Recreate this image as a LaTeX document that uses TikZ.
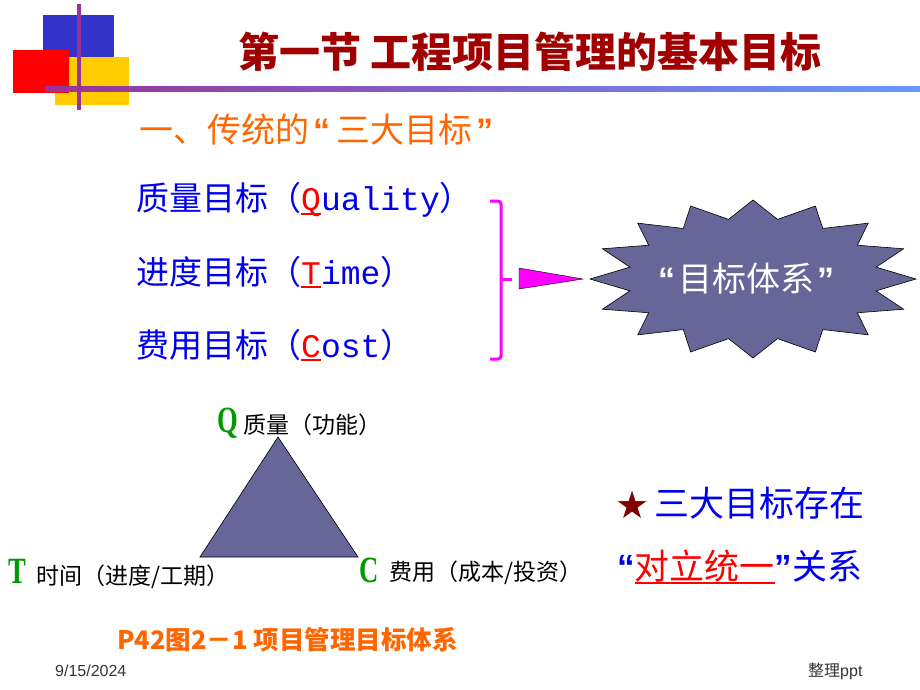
\documentclass[tikz,border=0pt]{standalone}
\usepackage{fontspec}
\usepackage{graphicx}
\newfontfamily\cjk{Noto Sans CJK SC}
\newfontfamily\mono{Liberation Mono}
\newfontfamily\serifl{Liberation Serif}
\newfontfamily\sansl{Liberation Sans}
\newfontfamily\djv{DejaVu Sans}
\definecolor{titlered}{RGB}{160,0,0}
\definecolor{orng}{RGB}{255,102,0}
\definecolor{txtblue}{RGB}{0,0,240}
\definecolor{mag}{RGB}{255,0,255}
\definecolor{slate}{RGB}{102,102,153}
\definecolor{grn}{RGB}{0,153,0}
\definecolor{starred}{RGB}{128,0,0}
\definecolor{decoblue}{RGB}{51,51,204}
\definecolor{decoyellow}{RGB}{255,204,0}
\definecolor{decopurple}{RGB}{153,51,153}
\definecolor{linblue}{RGB}{102,153,255}
\tikzset{
  txt/.style={inner sep=0pt, anchor=west},
  goal/.style={txt, text=txtblue, font=\cjk\fontsize{33}{38}\selectfont},
  lbl/.style={txt, text=black, font=\cjk\fontsize{23}{28}\selectfont},
  letter/.style={txt, text=grn, font=\serifl\bfseries\fontsize{37}{40}\selectfont},
  shapefill/.style={fill=slate, draw=black, line width=0.6pt},
}
\newcommand{\redl}[1]{{\color{red}\setbox0\hbox{#1}\rlap{\rule[-4pt]{\wd0}{2pt}}\box0}}
\newcommand{\wq}[1]{{\sansl\bfseries #1}}
\begin{document}
\begin{tikzpicture}[x=1pt,y=-1pt]
\useasboundingbox (0,0) rectangle (920,690);
% decoration
\fill[decoyellow] (55,57) rectangle (129,105);
\fill[decoblue] (43,15) rectangle (114,57);
\fill[red] (13,50) rectangle (69,93);
\shade[left color=decopurple, right color=linblue] (45,87) rectangle (920,92);
\fill[decopurple] (77,4) rectangle (81,110);
% title
\node[txt, text=titlered, font=\cjk\bfseries\fontsize{41}{46}\selectfont] (title) at (238,52) {第一节 工程项目管理的基本目标};
\node[txt, text=orng, font=\cjk\fontsize{34}{40}\selectfont] (sub) at (139,130) {一、传统的\hspace{4pt}\wq{“}\hspace{6pt}三大目标\hspace{4pt}\wq{”}};
% goals
\node[goal] (g1) at (136,200) {质量目标（{\mono\redl{Q}uality}）};
\node[goal] (g2) at (136,272) {进度目标（{\mono\redl{T}ime}）};
\node[goal] (g3) at (136,345) {费用目标（{\mono\redl{C}ost}）};
% brace
\draw[mag, line width=3pt, rounded corners=3pt] (490,201) -- (501,201) -- (501,359) -- (490,359);
\draw[mag, line width=3pt] (501,279) -- (512,279);
% arrow triangle
\fill[mag] (519,268) -- (583,279) -- (519,289) -- cycle;
\draw[black, line width=0.4pt] (519,268) -- (583,279) -- (519,289) -- cycle;
% starburst
\path[shapefill] (916,279)
  \foreach \k in {0,...,15} {
    -- ({753+125.5*cos(\k*22.5+11.25)},{279-60.8*sin(\k*22.5+11.25)})
    -- ({753+163*cos((\k+1)*22.5)},{279-79*sin((\k+1)*22.5)})
  } -- cycle;
\node[inner sep=0pt, text=white, font=\cjk\fontsize{34}{38}\selectfont] (burst) at (746,279) {\wq{“}\hspace{3pt}目标体系\hspace{3pt}\wq{”}};
% triangle
\path[shapefill] (278,437) -- (358,557) -- (200,557) -- cycle;
\node[letter] (Q) at (217,423) {\scalebox{0.72}[1]{Q}};
\node[lbl] (Qt) at (243,425) {质量（功能）};
\node[letter] (T) at (8,571) {\scalebox{0.72}[1]{T}};
\node[lbl] (Tt) at (36,577) {时间（进度/工期）};
\node[letter] (C) at (359,570) {\scalebox{0.72}[1]{C}};
\node[lbl] (Ct) at (389,573) {费用（成本/投资）};
% right statement
\node[txt, text=starred, font=\djv\fontsize{38}{40}\selectfont] (star) at (615,505) {★};
\node[txt, text=txtblue, font=\cjk\fontsize{35}{40}\selectfont] (s1) at (654,503) {三大目标存在};
\node[txt, text=txtblue, font=\cjk\fontsize{35}{40}\selectfont] (s2) at (617,567) {\wq{“}\redl{对立统一}\wq{”}关系};
% caption
\node[txt, text=orng, font=\cjk\bfseries\fontsize{25.5}{28}\selectfont] (cap) at (117,640) {P42图2－1 项目管理目标体系};
% footer
\node[txt, text=black!80, font=\sansl\fontsize{16}{18}\selectfont] (date) at (55,671) {9/15/2024};
\node[txt, text=black!80, font=\sansl\fontsize{16}{18}\selectfont] (foot) at (808,671) {{\cjk 整理}ppt};
\end{tikzpicture}
\end{document}
